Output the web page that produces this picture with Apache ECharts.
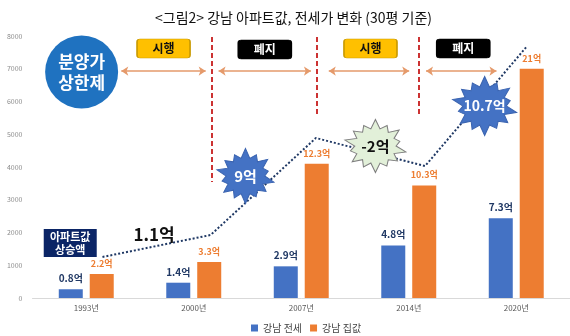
<!DOCTYPE html>
<html>
<head>
<meta charset="utf-8">
<script src="https://cdn.jsdelivr.net/npm/echarts@6/dist/echarts.min.js"></script>
<style>html,body{margin:0;padding:0;background:#fff}#c{width:570px;height:336px}</style>
</head>
<body>
<div id="c"></div>
<script>
// ---- data (values in 만원/평, 30평 기준 labels in 억) ----
const categories = ['1993년', '2000년', '2007년', '2014년', '2020년'];
const jeonse = [267, 467, 967, 1600, 2433];
const price = [733, 1100, 4100, 3433, 7000];
const jeonseLabels = ['0.8억', '1.4억', '2.9억', '4.8억', '7.3억'];
const priceLabels = ['2.2억', '3.3억', '12.3억', '10.3억', '21억'];
const yMin = 0, yMax = 8000, yStep = 1000;
// dotted "아파트값 상승액" trend, on a continuous x scale (category i spans [i, i+1])
const riseLine = [[0.651, 1252], [1.657, 1924], [2.636, 4885], [3.652, 4030], [4.594, 7664]];
// policy periods
const policyDividers = [[1.667, 7970, 3542], [2.645, 7970, 5588], [3.597, 7970, 5588]];
const policyArrows = [[0.826, 1.611], [1.731, 2.590], [2.756, 3.504], [3.661, 4.316]];
const arrowLevel = 6930;
const policyBoxes = [[1.219, 7618, '시행'], [2.161, 7590, '폐지'], [3.144, 7618, '시행'], [4.007, 7618, '폐지']];
const bursts = [[1.981, 3725, '9억'], [3.190, 4641, '-2억'], [4.206, 5863, '10.7억']];
const capBadge = [0.457, 6901, '분양가\n상한제'];
const riseBadge = [0.351, 1679, '아파트값\n상승액'];
const riseText = [1.131, 1924, '1.1억'];

const FONT = '"Noto Sans CJK KR","Noto Sans",sans-serif';

function starPath(n, rOut, rIn) {
  let d = '';
  const jitter = [1, 0.86, 0.97, 0.8, 1, 0.9, 0.84, 1, 0.88, 0.95, 0.82, 1, 0.9, 0.86];
  for (let i = 0; i < 2 * n; i++) {
    const a = Math.PI * i / n - Math.PI / 2;
    const r = (i % 2 === 0) ? rOut * jitter[(i / 2) % jitter.length] : rIn;
    const x = (50 + r * Math.cos(a)).toFixed(2), y = (50 + r * Math.sin(a)).toFixed(2);
    d += (i === 0 ? 'M' : 'L') + x + ' ' + y + ' ';
  }
  return 'path://' + d + 'Z';
}
const STAR = starPath(14, 50, 33);
const BOX = 'path://M3 0 L50 0 Q53 0 53 3 L53 16 Q53 19 50 19 L3 19 Q0 19 0 16 L0 3 Q0 0 3 0 Z';

const burstStyles = [
  { size: [57, 55], fill: '#4472C4', stroke: '#3B64B0', color: '#fff', fs: 15 },
  { size: [61, 53], fill: '#E2F0D9', stroke: '#7F7F7F', color: '#111', fs: 15 },
  { size: [64, 59], fill: '#4472C4', stroke: '#3B64B0', color: '#fff', fs: 14 }
];

const annot = [];
bursts.forEach((b, i) => {
  const s = burstStyles[i];
  annot.push({
    value: [b[0], b[1]], symbol: STAR, symbolSize: s.size,
    itemStyle: { color: s.fill, borderColor: s.stroke, borderWidth: 1, opacity: 1 },
    label: { show: true, position: 'inside', formatter: b[2], color: s.color, fontSize: s.fs, fontWeight: 'bold', fontFamily: FONT }
  });
});
policyBoxes.forEach(b => {
  const on = b[2] === '시행';
  annot.push({
    value: [b[0], b[1]], symbol: BOX, symbolSize: [53, 19],
    itemStyle: { color: on ? '#FFC000' : '#000', borderColor: on ? '#C99A00' : '#000', borderWidth: 1, opacity: 1 },
    label: { show: true, position: 'inside', formatter: b[2], color: on ? '#111' : '#fff', fontSize: 12, fontWeight: 'bold', fontFamily: FONT }
  });
});
annot.push({
  value: [capBadge[0], capBadge[1]], symbol: 'circle', symbolSize: 73,
  itemStyle: { color: '#1F72C0', opacity: 1 },
  label: { show: true, position: 'inside', formatter: capBadge[2], color: '#fff', fontSize: 17, lineHeight: 21, fontWeight: 'bold', fontFamily: FONT }
});
annot.push({
  value: [riseBadge[0], riseBadge[1]], symbol: 'rect', symbolSize: [53, 28],
  itemStyle: { color: '#0B2566', opacity: 1 },
  label: { show: true, position: 'inside', formatter: riseBadge[2], color: '#fff', fontSize: 11, lineHeight: 13, fontWeight: 'bold', fontFamily: FONT }
});
annot.push({
  value: [riseText[0], riseText[1]], symbol: 'rect', symbolSize: 1,
  itemStyle: { color: 'rgba(0,0,0,0)', opacity: 1 },
  label: { show: true, position: 'inside', formatter: riseText[2], color: '#111', fontSize: 17, fontWeight: 'bold', fontFamily: FONT }
});

const chart = echarts.init(document.getElementById('c'), null, { renderer: 'canvas' });
chart.setOption({
  animation: false,
  backgroundColor: '#fff',
  textStyle: { fontFamily: FONT },
  title: {
    text: '<그림2> 강남 아파트값, 전세가 변화 (30평 기준)',
    left: 150, top: 6,
    textStyle: { fontSize: 14, fontWeight: 'normal', color: '#111', fontFamily: FONT }
  },
  legend: {
    data: ['강남 전세', '강남 집값'],
    left: 246, top: 318, itemWidth: 7, itemHeight: 7, itemGap: 8,
    icon: 'rect',
    textStyle: { fontSize: 10, color: '#444', fontFamily: FONT }
  },
  grid: { left: 32.5, right: -4, top: 36, bottom: 38, containLabel: false },
  xAxis: [
    {
      type: 'category', data: categories,
      axisLine: { lineStyle: { color: '#D9D9D9' } },
      axisTick: { show: false },
      axisLabel: { fontSize: 8, color: '#595959', margin: 6 }
    },
    { type: 'value', min: 0, max: 5, show: false }
  ],
  yAxis: {
    type: 'value', min: yMin, max: yMax, interval: yStep,
    axisLine: { show: false }, axisTick: { show: false },
    splitLine: { show: false },
    axisLabel: { fontSize: 7, color: '#8C8C8C', margin: 10, formatter: v => String(v) }
  },
  series: [
    {
      name: '강남 전세', type: 'bar', data: jeonse, barWidth: 24, barGap: '29%',
      itemStyle: { color: '#4472C4' },
      label: {
        show: true, position: 'top', distance: 6,
        formatter: p => jeonseLabels[p.dataIndex],
        color: '#203864', fontSize: 10, fontWeight: 'bold', fontFamily: FONT
      }
    },
    {
      name: '강남 집값', type: 'bar', data: price, barWidth: 24,
      itemStyle: { color: '#ED7D31' },
      label: {
        show: true, position: 'top', distance: 6,
        formatter: p => priceLabels[p.dataIndex],
        color: '#ED7D31', fontSize: 9, fontWeight: 'bold', fontFamily: FONT
      }
    },
    {
      name: '상승액', type: 'line', xAxisIndex: 1, yAxisIndex: 0, data: riseLine,
      symbol: 'none', silent: true, z: 3,
      lineStyle: { color: '#1F3864', width: 2, type: [2, 2] },
      markLine: {
        silent: true, symbol: 'none', label: { show: false },
        lineStyle: { color: '#C00000', width: 1.6, type: [5, 3] },
        data: policyDividers.map(d => [{ coord: [d[0], d[1]] }, { coord: [d[0], d[2]] }])
      }
    },
    {
      name: '주석', type: 'scatter', xAxisIndex: 1, yAxisIndex: 0, data: annot,
      silent: true, z: 5,
      itemStyle: { opacity: 1 },
      markLine: {
        silent: true, symbol: ['arrow', 'arrow'], symbolSize: [7, 7], label: { show: false },
        lineStyle: { color: '#E59A6B', width: 1.6, type: 'solid' },
        data: policyArrows.map(a => [{ coord: [a[0], arrowLevel] }, { coord: [a[1], arrowLevel] }])
      }
    }
  ]
});
</script>
</body>
</html>
